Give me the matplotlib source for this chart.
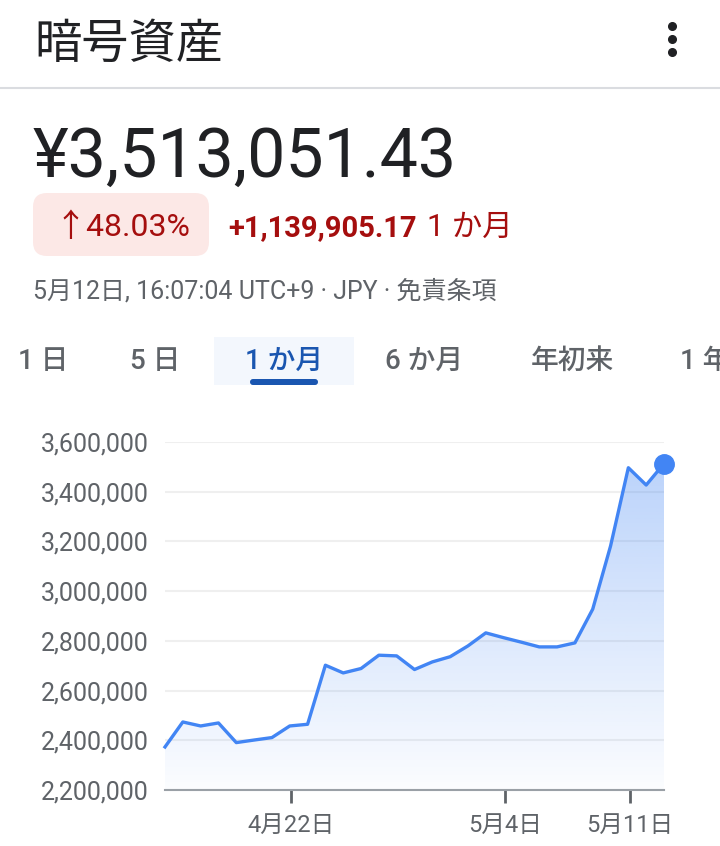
import numpy as np
import pandas as pd
import matplotlib
matplotlib.use("Agg")
import matplotlib.pyplot as plt
import matplotlib.dates as mdates
from matplotlib.patches import FancyBboxPatch, Rectangle
from matplotlib.ticker import FuncFormatter

plt.rcParams['font.family'] = ['Roboto', 'Noto Sans CJK JP', 'DejaVu Sans']

# --- data (JPY, one point per day) ---
start_date = "2025-04-14 22:00"
prices = [2373146, 2473700, 2457600, 2469700, 2390700, 2401000, 2410900, 2457600,
          2464400, 2702000, 2671000, 2688700, 2742300, 2739500, 2684700, 2715300,
          2736200, 2779700, 2832100, 2812800, 2794600, 2775700, 2775700, 2791800,
          2927500, 3181200, 3496500, 3426900, 3513051]
tick_dates = ["2025-04-22", "2025-05-04", "2025-05-11"]
tick_labels = ["4月22日", "5月4日", "5月11日"]
y_ticks = [2200000, 2400000, 2600000, 2800000, 3000000, 3200000, 3400000, 3600000]
tabs = ["1 日", "5 日", "1 か月", "6 か月", "年初来", "1 年"]
tab_x = [18, 130, 245, 385, 531, 680]
active_tab = 2

title = "暗号資産"
price_text = "¥3,513,051.43"
pct_text = "↑48.03%"
change_text = "+1,139,905.17"
period_text = "1 か月"
meta_text = "5月12日, 16:07:04 UTC+9 · JPY · 免責条項"

dates = pd.date_range(start_date, periods=len(prices), freq="D")

W, H = 720, 846
BLUE = "#4285f4"
GRAY = "#5f6368"
DARK = "#202124"
RED = "#a50e0e"

fig = plt.figure(figsize=(W / 100, H / 100), dpi=100)

# full-figure overlay in pixel units for the header UI
ui = fig.add_axes([0, 0, 1, 1])
ui.set_xlim(0, W)
ui.set_ylim(H, 0)
ui.axis("off")

ui.text(34, 58, title, fontsize=34, color=DARK, va="baseline")
ui.plot([672, 672, 672], [26, 39, 52], "o", ms=5.5, color=DARK)
ui.plot([0, W], [88, 88], color="#dadce0", lw=1.5)

ui.text(33, 177, price_text, fontsize=49, color=DARK, va="baseline")

ui.add_patch(FancyBboxPatch((33, 193), 176, 63, boxstyle="round,pad=0,rounding_size=14",
                            fc="#fce8e6", ec="none"))
ui.text(122, 236, pct_text, fontsize=23, color=RED, va="baseline", ha="center")
ui.text(228, 236, change_text, fontsize=21, color=RED, va="baseline", fontweight="bold")
ui.text(427, 236, period_text, fontsize=22, color=RED, va="baseline")

ui.text(33, 298, meta_text, fontsize=18, color=GRAY, va="baseline")

# tabs
ui.add_patch(Rectangle((214, 337), 140, 48, fc="#f3f7fd", ec="none"))
ui.add_patch(FancyBboxPatch((250, 379), 68, 6, boxstyle="round,pad=0,rounding_size=3",
                            fc="#1a56b0", ec="none"))
for i, (lab, x) in enumerate(zip(tabs, tab_x)):
    ui.text(x, 369, lab, fontsize=20, va="baseline",
            color="#1a56b0" if i == active_tab else GRAY, fontweight="medium")

# --- chart ---
ax = fig.add_axes([165 / W, 1 - 790 / H, (664 - 165) / W, (790 - 442) / H])

# gradient fill under the line
poly = ax.fill_between(dates, prices, y_ticks[0], color="none", lw=0)
grad = np.zeros((256, 1, 4))
grad[:, 0, :3] = matplotlib.colors.to_rgb(BLUE)
grad[:, 0, 3] = np.linspace(0.36, 0.02, 256)
x0, x1 = mdates.date2num(dates[0]), mdates.date2num(dates[-1])
img = ax.imshow(grad, aspect="auto", extent=[x0, x1, y_ticks[0], max(prices)],
                origin="upper", zorder=1)
img.set_clip_path(poly.get_paths()[0], transform=ax.transData)
ax.set_xlim(dates[0], dates[-1])
ax.set_ylim(y_ticks[0], y_ticks[-1])

ax.plot(dates, prices, color=BLUE, lw=2.4, zorder=3, clip_on=False)
ax.plot(dates[-1], prices[-1], "o", ms=14, color=BLUE, zorder=4, clip_on=False)

ax.set_yticks(y_ticks)
ax.yaxis.set_major_formatter(FuncFormatter(lambda v, p: f"{int(v):,}"))
ax.yaxis.grid(True, color="#efefef", lw=1.5)
ax.set_axisbelow(True)
ax.set_xticks(pd.to_datetime(tick_dates))
ax.set_xticklabels(tick_labels)

for s in ["top", "right", "left"]:
    ax.spines[s].set_visible(False)
ax.spines["bottom"].set_color("#9aa0a6")
ax.spines["bottom"].set_linewidth(1.5)
ax.tick_params(axis="y", length=0, pad=12, labelsize=18, labelcolor=GRAY)
ax.tick_params(axis="x", length=9, width=2, color=GRAY, pad=8, labelsize=17, labelcolor=GRAY)
ax.set_facecolor("none")

fig.savefig("out.png", dpi=100)
